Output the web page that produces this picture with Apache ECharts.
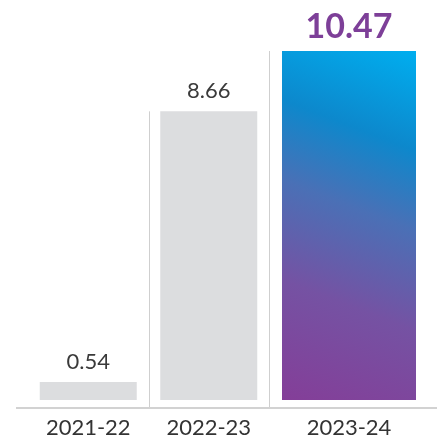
<!DOCTYPE html>
<html>
<head>
<meta charset="utf-8">
<script src="https://cdn.jsdelivr.net/npm/echarts@6/dist/echarts.min.js"></script>
<style>html,body{margin:0;padding:0;background:#fff;}#c{width:439px;height:439px;}</style>
</head>
<body>
<div id="c"></div>
<script>
var categories = ['2021-22', '2022-23', '2023-24'];
var values = [0.54, 8.66, 10.47];
var yMin = -0.21, yMax = 10.8;

var FONT = 'Lato, "Open Sans", sans-serif';
var chart = echarts.init(document.getElementById('c'), null, {renderer: 'canvas'});

function sepRender(params, api) {
  var idx = api.value(0);
  var v = api.value(1);
  var top = api.coord([idx, v]);
  var band = api.size([1, 0])[0];
  var x = Math.round(top[0] - band / 2) + 0.5;
  var cs = params.coordSys;
  return {
    type: 'line',
    shape: {x1: x, y1: top[1], x2: x, y2: cs.y + cs.height},
    style: {stroke: '#cfcfcf', lineWidth: 1}
  };
}

var xLabel = {fontSize: 22, color: '#333', fontFamily: FONT, margin: 10};

chart.setOption({
  animation: false,
  grid: [
    {left: 28, width: 241, top: 40, bottom: 31},
    {left: 269, width: 160, top: 40, bottom: 31}
  ],
  xAxis: [
    {type: 'category', gridIndex: 0, data: categories.slice(0, 2), axisLine: {show: false}, axisTick: {show: false}, axisLabel: xLabel},
    {type: 'category', gridIndex: 1, data: categories.slice(2), axisLine: {show: false}, axisTick: {show: false}, axisLabel: xLabel}
  ],
  yAxis: [
    {type: 'value', gridIndex: 0, min: yMin, max: yMax, show: false},
    {type: 'value', gridIndex: 1, min: yMin, max: yMax, show: false}
  ],
  graphic: [{
    type: 'line', shape: {x1: 16, y1: 408, x2: 437, y2: 408},
    style: {stroke: '#d2d2d2', lineWidth: 2}
  }],
  series: [
    {
      type: 'bar', xAxisIndex: 0, yAxisIndex: 0,
      data: values.slice(0, 2), barWidth: 97,
      itemStyle: {color: '#dcdddf'},
      label: {show: true, position: 'top', distance: 9, fontSize: 22, color: '#3a3a3a', fontFamily: FONT}
    },
    {
      type: 'bar', xAxisIndex: 1, yAxisIndex: 1,
      data: values.slice(2), barWidth: 134,
      itemStyle: {color: new echarts.graphic.LinearGradient(0, 1, 1, 0, [
        {offset: 0, color: '#843e98'},
        {offset: 0.3, color: '#7552a3'},
        {offset: 0.55, color: '#4a70b6'},
        {offset: 0.75, color: '#0d88cc'},
        {offset: 1, color: '#00aeef'}
      ])},
      label: {show: true, position: 'top', distance: 7, fontSize: 34, fontWeight: 'bold', color: '#7d3f98', fontFamily: FONT}
    },
    {
      type: 'custom', xAxisIndex: 0, yAxisIndex: 0, clip: false, z: 1,
      renderItem: sepRender,
      data: [[1, values[1]]]
    },
    {
      type: 'custom', xAxisIndex: 1, yAxisIndex: 1, clip: false, z: 1,
      renderItem: sepRender,
      data: [[0, values[2]]]
    }
  ]
});
</script>
</body>
</html>
